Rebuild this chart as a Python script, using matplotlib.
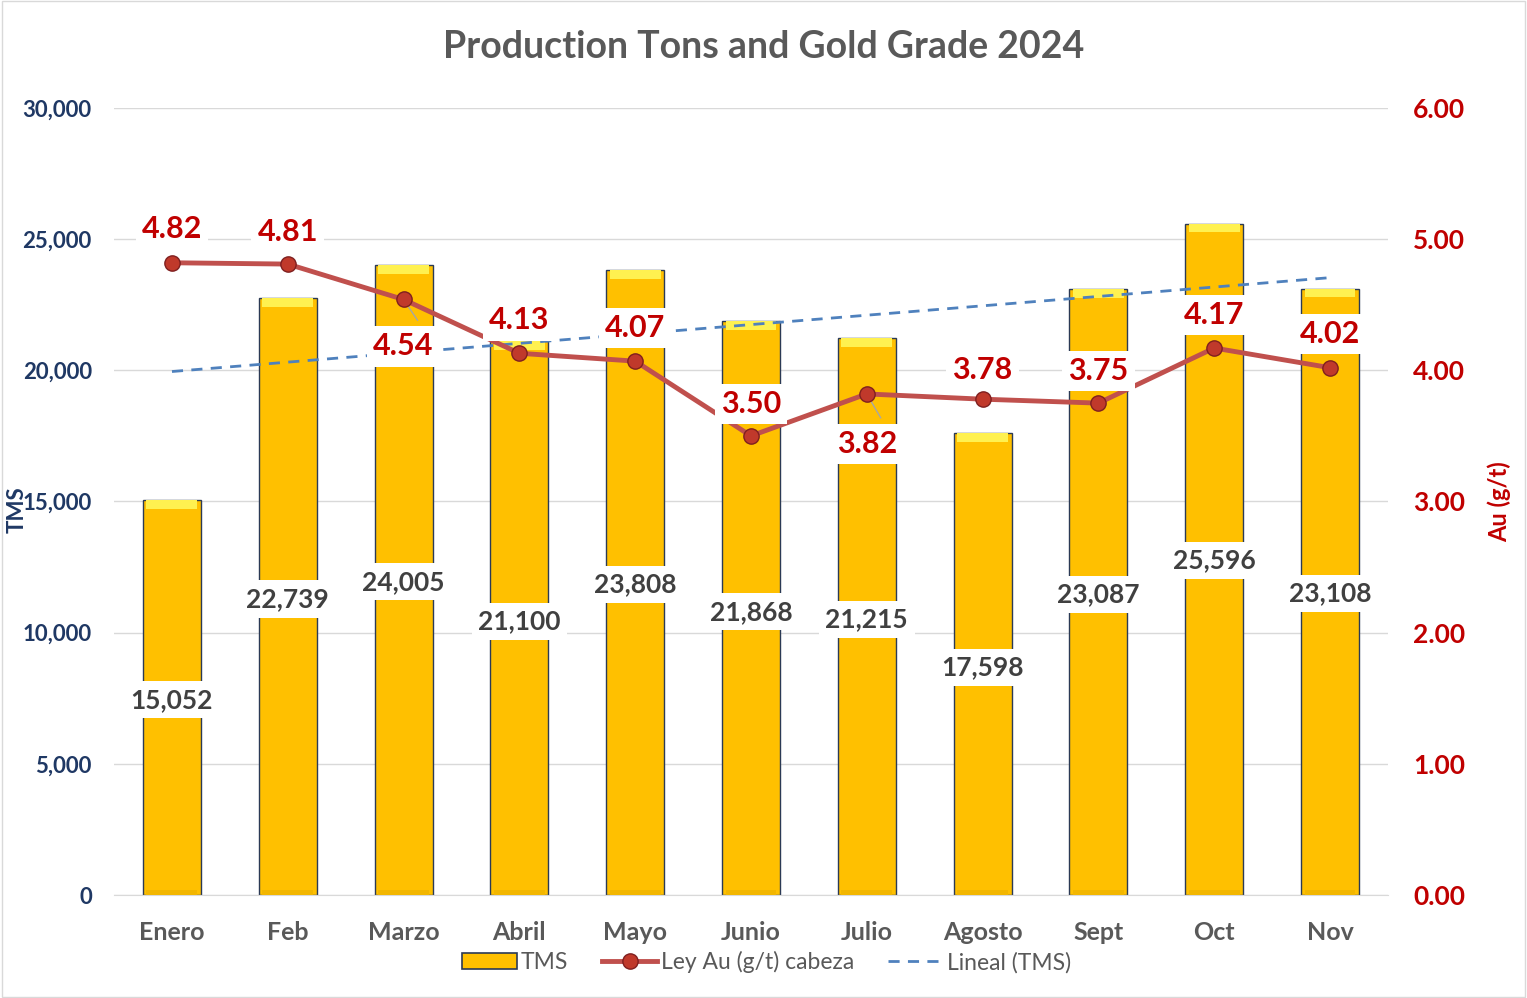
import matplotlib
matplotlib.use("Agg")
import matplotlib.pyplot as plt
import numpy as np
from matplotlib.lines import Line2D
from matplotlib.patches import Patch, Rectangle

months = ["Enero", "Feb", "Marzo", "Abril", "Mayo", "Junio", "Julio", "Agosto", "Sept", "Oct", "Nov"]
tms = [15052, 22739, 24005, 21100, 23808, 21868, 21215, 17598, 23087, 25596, 23108]
ley = [4.82, 4.81, 4.54, 4.13, 4.07, 3.50, 3.82, 3.78, 3.75, 4.17, 4.02]

# label placement (axes-fraction heights) - layout only
bar_lbl_y = [0.248, 0.376, 0.398, 0.348, 0.395, 0.360, 0.350, 0.289, 0.382, 0.425, 0.383]
ley_lbl_y = [0.846, 0.843, 0.697, 0.730, 0.720, 0.624, 0.573, 0.667, 0.666, 0.737, 0.713]

plt.rcParams['font.family'] = ['Lato', 'DejaVu Sans']
fig = plt.figure(figsize=(15.27, 9.98), dpi=100)
ax = fig.add_axes([0.0747, 0.1032, 0.8342, 0.7886])
ax2 = ax.twinx()

x = np.arange(len(months))
ax.bar(x, tms, width=0.5, color="#FFC000", edgecolor="#2B3A55", linewidth=1.0, zorder=2)
band = 330
ax.bar(x, [band] * len(x), bottom=[v - band for v in tms], width=0.44, color="#FFF150",
       edgecolor="none", zorder=3)
ax.bar(x, [band * 0.6] * len(x), bottom=[0] * len(x), width=0.44, color="#F2B600",
       edgecolor="none", zorder=3)

coef = np.polyfit(x, tms, 1)
trend = np.polyval(coef, x)
ax.plot(x, trend, ls=(0, (4, 3)), color="#4F81BD", lw=2, zorder=4)

ax.set_ylim(0, 30000)
ax.set_xlim(-0.5, len(x) - 0.5)
ax.set_yticks(np.arange(0, 30001, 5000))
ax.set_yticklabels([f"{v:,}" for v in range(0, 30001, 5000)])
ax.grid(axis='y', color="#D9D9D9", lw=1, zorder=0)
ax.set_axisbelow(True)
ax.tick_params(axis='y', length=0, labelsize=16, labelcolor="#1F3864", pad=16)
ax.tick_params(axis='x', length=0, labelsize=18, labelcolor="#595959", pad=19)
ax.set_xticks(x)
ax.set_xticklabels(months, fontweight='bold')
for t in ax.get_yticklabels():
    t.set_fontweight('bold')
for s in ["top", "right", "left"]:
    ax.spines[s].set_visible(False)
ax.spines["bottom"].set_color("#D9D9D9")
for s in ["top", "right", "left", "bottom"]:
    ax2.spines[s].set_visible(False)

ax2.plot(x, ley, color="#C0504D", lw=3.5, marker='o', ms=11, mfc="#C0392B",
         mec="#7F1F1F", mew=1, zorder=6)
ax2.set_ylim(0, 6)
ax2.set_yticks(np.arange(0, 6.01, 1))
ax2.set_yticklabels([f"{v:.2f}" for v in np.arange(0, 6.01, 1)])
ax2.tick_params(axis='y', length=0, labelsize=19, labelcolor="#C00000", pad=18)
for t in ax2.get_yticklabels():
    t.set_fontweight('bold')

for i, v in enumerate(tms):
    ax2.text(i, bar_lbl_y[i], f"{v:,}", transform=ax2.get_xaxis_transform(), ha='center', va='center',
             fontsize=19, fontweight='bold', color="#404040", zorder=8,
             bbox=dict(boxstyle="square,pad=0.25", fc="white", ec="none"))
for i, v in enumerate(ley):
    yl = ley_lbl_y[i]
    ax2.text(i, yl, f"{v:.2f}", transform=ax2.get_xaxis_transform(), ha='center', va='center',
             fontsize=22, fontweight='bold', color="#C00000", zorder=9,
             bbox=dict(boxstyle="square,pad=0.2", fc="white", ec="none"))
# leader lines for displaced labels
for i in (2, 6):
    yl = ley_lbl_y[i] * 6
    ax2.plot([i, i + 0.12], [ley[i], yl + 0.2], color="#A6A6A6", lw=1, zorder=5)

ax.set_ylabel("TMS", fontsize=16, fontweight='bold', color="#1F3864")
ax.yaxis.set_label_coords(-0.068, 0.49)
ax2.set_ylabel("Au (g/t)", fontsize=17, fontweight='bold', color="#C00000")
ax2.yaxis.set_label_coords(1.078, 0.50)

fig.text(0.5, 0.953, "Production Tons and Gold Grade 2024", ha='center', va='center',
         fontsize=27, fontweight='bold', color="#595959")

handles = [Patch(facecolor="#FFC000", edgecolor="#2B3A55", lw=1.2),
           Line2D([], [], color="#C0504D", lw=3.5, marker='o', ms=11, mfc="#C0392B", mec="#7F1F1F"),
           Line2D([], [], color="#4F81BD", lw=2, ls=(0, (4, 3)))]
fig.legend(handles, ["TMS", "Ley Au (g/t) cabeza", "Lineal (TMS)"], loc='center',
           bbox_to_anchor=(0.502, 0.036), ncol=3, frameon=False, fontsize=16.5,
           handlelength=2.4, columnspacing=1.5, handletextpad=0.15, labelcolor="#595959")

fig.add_artist(Rectangle((0.001, 0.001), 0.998, 0.998, transform=fig.transFigure, fill=False,
                         ec="#D9D9D9", lw=1))
fig.savefig("out.png", dpi=100)
